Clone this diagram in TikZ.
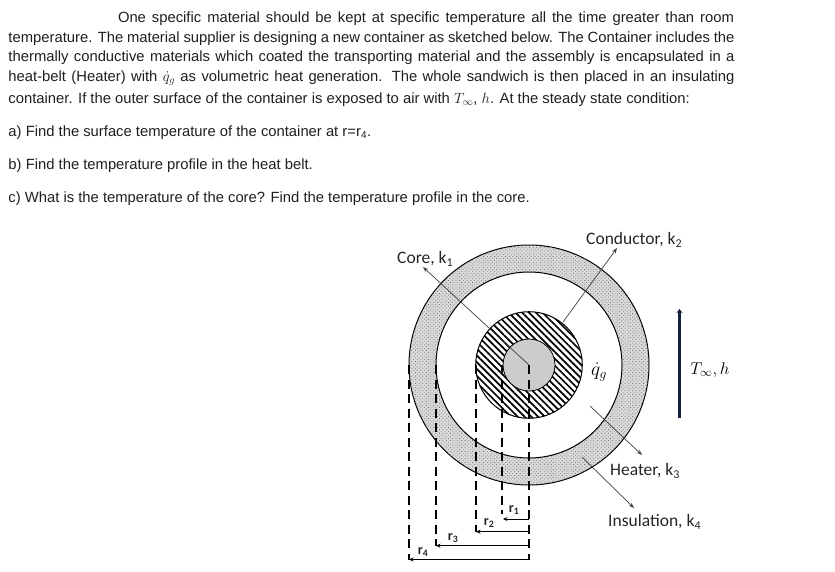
\RequirePackage{fix-cm}
\documentclass[tikz,border=0pt]{standalone}
\usepackage{fontspec}
\setmainfont{Liberation Sans}
\newfontfamily\labelfont{Carlito}
\usetikzlibrary{arrows.meta,patterns.meta}
\definecolor{airnavy}{HTML}{14203F}
\newcommand{\lowsub}[1]{\raisebox{-3.5pt}{\fontsize{12}{12}\selectfont #1}}
\tikzset{
  bodyline/.style={anchor=base west,inner sep=0pt,outer sep=0pt,text=black!88,font=\fontsize{14.8}{16}\selectfont},
  partlabel/.style={anchor=base west,inner sep=0pt,text=black!85,font=\labelfont\fontsize{17.5}{19}\selectfont},
  radiuslabel/.style={inner sep=0pt,text=black!85,font=\labelfont\bfseries\fontsize{14}{16}\selectfont},
  leader/.style={draw=black!75,line width=0.7pt,-{Stealth[length=5.5pt,width=4pt]}},
  ringedge/.style={draw=black,line width=1pt},
  dimdash/.style={draw=black,line width=1.5pt,dash pattern=on 9pt off 5.5pt},
  dimline/.style={draw=black,line width=1pt,-{Stealth[length=4.5pt,width=4pt]}},
}
\newcommand{\justline}[1]{\makebox[726pt][s]{#1}}
\begin{document}
\begin{tikzpicture}[x=1pt,y=-1pt]
\useasboundingbox (0,0) rectangle (835,571);
% text
\node[bodyline] (l1) at (118,22) {\makebox[616pt][s]{One specific material should be kept at specific temperature all the time greater than room}};
\node[bodyline] (l2) at (8.5,42) {\justline{temperature. The material supplier is designing a new container as sketched below. The Container includes the}};
\node[bodyline] (l3) at (8.5,61.5) {\justline{thermally conductive materials which coated the transporting material and the assembly is encapsulated in a}};
\node[bodyline] (l4) at (8.5,81.5) {\justline{heat-belt (Heater) with $\dot q_g$ as volumetric heat generation. The whole sandwich is then placed in an insulating}};
\node[bodyline] (l5) at (8.5,103) {container. If the outer surface of the container is exposed to air with $T_\infty$, $h$. At the steady state condition:};
\node[bodyline] (qa) at (8.5,136) {a) Find the surface temperature of the container at r=r\textsubscript{\fontsize{10}{10}\selectfont 4}.};
\node[bodyline] (qb) at (8.5,169) {b) Find the temperature profile in the heat belt.};
\node[bodyline] (qc) at (8.5,202) {c) What is the temperature of the core? Find the temperature profile in the core.};
% rings
\coordinate (c) at (529,365);
\path[ringedge,fill=black!15] (c) circle[radius=120];
\fill[pattern={Dots[distance=2.6pt,radius=0.55pt,angle=45]},pattern color=black!55] (c) circle[radius=120];
\path[ringedge,fill=white] (c) circle[radius=93];
\path[ringedge,fill=white] (c) circle[radius=53.3];
\fill[pattern={Lines[angle=-45,distance=4.8pt,line width=1.7pt]},pattern color=black] (c) circle[radius=53.3];
\path[draw=black,line width=0.8pt,fill=black!20] (c) circle[radius=26];
% coordinates of leaders
\coordinate (coreend) at (423,267);
\coordinate (condstart) at (563,322);
\coordinate (condend) at (617,248);
\coordinate (heatstart) at (590,406);
\coordinate (heatend) at (642,455);
\coordinate (insstart) at (582,457);
\coordinate (insend) at (634,508);
\draw[leader] (c) -- (coreend);
\draw[leader] (condstart) -- (condend);
\draw[leader] (heatstart) -- (heatend);
\draw[leader] (insstart) -- (insend);
% labels
\node[partlabel] (core) at (397,263) {Core, k\lowsub{1}};
\node[partlabel] (cond) at (586,244) {Conductor, k\lowsub{2}};
\node[partlabel] (heat) at (610,475) {Heater, k\lowsub{3}};
\node[partlabel] (ins) at (608,526) {Insulation, k\lowsub{4}};
\node[inner sep=0pt,font=\fontsize{19.5}{21}\selectfont] (qg) at (599,372) {$\dot q_g$};
\node[inner sep=0pt,font=\fontsize{17}{19}\selectfont] (tinf) at (710,370) {$T_\infty,h$};
% air flow arrow
\coordinate (airs) at (679.5,418);
\coordinate (aire) at (679.5,309);
\draw[draw=airnavy,line width=3pt,-{Stealth[length=4pt,width=6pt]}] (airs) -- (aire);
% dimension lines
\coordinate (d0t) at (529,365); \coordinate (d0b) at (529,560);
\coordinate (d1t) at (502,365); \coordinate (d1b) at (502,514);
\coordinate (d2t) at (476,365); \coordinate (d2b) at (476,532);
\coordinate (d3t) at (436,365); \coordinate (d3b) at (436,546);
\coordinate (d4t) at (409,365); \coordinate (d4b) at (409,560);
\draw[dimdash] (d0t) -- (d0b);
\draw[dimdash] (d1t) -- (d1b);
\draw[dimdash] (d2t) -- (d2b);
\draw[dimdash] (d3t) -- (d3b);
\draw[dimdash] (d4t) -- (d4b);
\coordinate (a1r) at (529,519);   \coordinate (a1l) at (503,519);
\coordinate (a2r) at (529,531.7); \coordinate (a2l) at (476,531.7);
\coordinate (a3r) at (529,545.7); \coordinate (a3l) at (436,545.7);
\coordinate (a4r) at (529,559.5); \coordinate (a4l) at (409,559.5);
\draw[dimline] (a1r) -- (a1l);
\draw[dimline] (a2r) -- (a2l);
\draw[dimline] (a3r) -- (a3l);
\draw[dimline] (a4r) -- (a4l);
\node[radiuslabel] (r1) at (514,510) {r\textsubscript{1}};
\node[radiuslabel] (r2) at (489,523) {r\textsubscript{2}};
\node[radiuslabel] (r3) at (453,538) {r\textsubscript{3}};
\node[radiuslabel] (r4) at (423,552) {r\textsubscript{4}};
\end{tikzpicture}
\end{document}
